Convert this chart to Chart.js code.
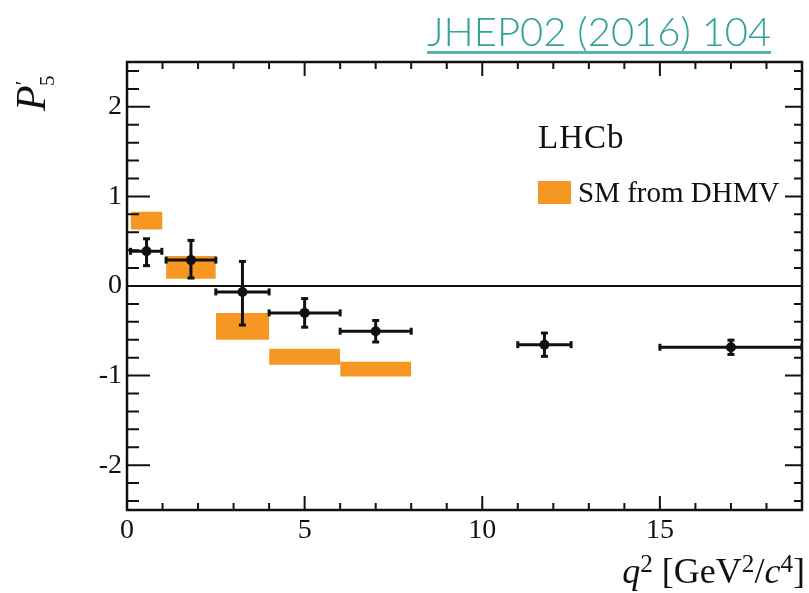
<!DOCTYPE html>
<html>
<head>
<meta charset="utf-8">
<script src="https://cdn.jsdelivr.net/npm/chart.js@4.4.1/dist/chart.umd.min.js"></script>
<style>
  body { margin: 0; background: #fff; }
  #wrap { position: relative; width: 809px; height: 593px; overflow: hidden; }
  #wrap div { position: absolute; white-space: nowrap; line-height: 1; color: #111; font-family: "Liberation Serif", serif; }
  #jhep { left: 427px; top: 11px; font-family: Lato, sans-serif !important; font-weight: 300; font-size: 40px; color: #35a29a !important; border-bottom: 3px solid #58b3aa; padding-bottom: 0px; }
  #ytitle { left: 10px; top: 111px; font-size: 42px; transform: rotate(-90deg); transform-origin: 0 0; }
  #ytitle sup, #ytitle sub { font-size: 0.5em; line-height: 0; }
  #xtitle { right: 4px; top: 553px; font-size: 36px; }
  #xtitle sup { font-size: 0.7em; line-height: 0; vertical-align: 0.45em; }
  #lhcb { left: 538px; top: 121px; font-size: 33px; letter-spacing: 1px; }
  #leg { left: 538px; top: 178px; font-size: 29px; }
  #leg span { display: inline-block; width: 33px; height: 23px; background: rgb(246,150,35); vertical-align: -2px; margin-right: 7px; }
</style>
</head>
<body>
<div id="wrap">
  <canvas id="c" width="809" height="593"></canvas>
  <div id="jhep">JHEP02 (2016) 104</div>
  <div id="ytitle"><i>P</i><sup>′</sup><sub style="margin-left:-0.25em">5</sub></div>
  <div id="xtitle"><i>q</i><sup>2</sup> [GeV<sup>2</sup>/<i>c</i><sup>4</sup>]</div>
  <div id="lhcb">LHCb</div>
  <div id="leg"><span></span>SM from DHMV</div>
</div>
<script>
// LHCb P5' measurement, bins in q2
const binLo = [0.1, 1.1, 2.5, 4.0, 6.0, 11.0, 15.0];
const binHi = [0.98, 2.5, 4.0, 6.0, 8.0, 12.5, 19.0];
const pointX = [0.55, 1.8, 3.25, 5.0, 7.0, 11.75, 17.0];
const p5 = [0.387, 0.289, -0.066, -0.300, -0.505, -0.655, -0.684];
const errUp = [0.14, 0.22, 0.34, 0.16, 0.12, 0.13, 0.08];
const errDn = [0.16, 0.20, 0.37, 0.16, 0.12, 0.13, 0.08];

// SM prediction (DHMV) bands
const smLo = [0.1, 1.1, 2.5, 4.0, 6.0];
const smHi = [1.0, 2.5, 4.0, 6.0, 8.0];
const smMin = [0.63, 0.08, -0.60, -0.88, -1.01];
const smMax = [0.83, 0.335, -0.30, -0.70, -0.845];

const xLabels = [0, 5, 10, 15];
const yLabels = [-2, -1, 0, 1, 2];

const orange = "rgb(246, 150, 35)";
const ink = "#111";
const tickFont = { family: "Liberation Serif", size: 28 };

const xMinor = [];
for (let k = 0; k <= 19; k++) xMinor.push(k);
const yMinor = [];
for (let k = -24; k <= 24; k += 2) yMinor.push(k / 10);

const vSeg = [];
const hSeg = [];
const vCaps = [];
const hCaps = [];
pointX.forEach(function(px, i) {
  vSeg.push({ x: px, y: p5[i] - errDn[i] }, { x: px, y: p5[i] + errUp[i] }, { x: px, y: null });
  hSeg.push({ x: binLo[i], y: p5[i] }, { x: binHi[i], y: p5[i] }, { x: px, y: null });
  vCaps.push({ x: px, y: p5[i] - errDn[i] }, { x: px, y: p5[i] + errUp[i] });
  hCaps.push({ x: binLo[i], y: p5[i] }, { x: binHi[i], y: p5[i] });
});

const boxSets = smLo.map(function(lo, i) {
  return {
    showLine: true,
    data: [{ x: lo, y: smMax[i] }, { x: smHi[i], y: smMax[i] }],
    fill: { target: { value: smMin[i] } },
    backgroundColor: orange,
    borderWidth: 0,
    pointRadius: 0
  };
});

const frameTicks = {
  id: "frameTicks",
  afterDatasetsDraw(chart) {
    const { ctx, chartArea: a, scales: { x, y } } = chart;
    ctx.save();
    ctx.strokeStyle = ink;
    ctx.lineWidth = 2;
    ctx.beginPath();
    xMinor.forEach(function(v) {
      const px = x.getPixelForValue(v);
      const len = v % 5 === 0 ? 14 : 7;
      ctx.moveTo(px, a.bottom);
      ctx.lineTo(px, a.bottom - len);
      ctx.moveTo(px, a.top);
      ctx.lineTo(px, a.top + len);
    });
    yMinor.forEach(function(v) {
      const py = y.getPixelForValue(v);
      const major = Math.abs(v - Math.round(v)) < 1e-6;
      ctx.moveTo(a.left, py);
      ctx.lineTo(a.left + (major ? 23 : 12), py);
      ctx.moveTo(a.right, py);
      ctx.lineTo(a.right - (major ? 17 : 8), py);
    });
    ctx.stroke();
    ctx.lineWidth = 2.5;
    ctx.strokeRect(a.left, a.top, a.right - a.left, a.bottom - a.top);
    ctx.restore();
  }
};

new Chart(document.getElementById("c"), {
  type: "scatter",
  data: {
    datasets: [
      { data: pointX.map((px, i) => ({ x: px, y: p5[i] })), pointRadius: 5, backgroundColor: ink, borderWidth: 0 },
      { data: vCaps, pointStyle: "line", pointRadius: 3.5, borderColor: ink, borderWidth: 3 },
      { data: hCaps, pointStyle: "line", rotation: 90, pointRadius: 3.5, borderColor: ink, borderWidth: 3 },
      { data: vSeg.concat(hSeg), showLine: true, spanGaps: false, borderColor: ink, borderWidth: 3, pointRadius: 0 },
      { data: [{ x: 0, y: 0 }, { x: 19, y: 0 }], showLine: true, borderColor: ink, borderWidth: 2, pointRadius: 0 },
      ...boxSets
    ]
  },
  options: {
    responsive: false,
    devicePixelRatio: 1,
    animation: false,
    layout: { padding: { top: 62, right: 6, left: 0, bottom: 0 } },
    plugins: { legend: { display: false }, tooltip: { enabled: false } },
    scales: {
      x: {
        type: "linear",
        min: 0,
        max: 19,
        grid: { display: false, drawTicks: false },
        border: { display: false },
        afterBuildTicks: function(s) { s.ticks = xLabels.map(v => ({ value: v })); },
        afterFit: function(s) { s.height = 83; },
        ticks: { font: tickFont, color: ink, padding: 4, autoSkip: false, maxRotation: 0 }
      },
      y: {
        type: "linear",
        min: -2.5,
        max: 2.5,
        grid: { display: false, drawTicks: false },
        border: { display: false },
        afterBuildTicks: function(s) { s.ticks = yLabels.map(v => ({ value: v })); },
        afterFit: function(s) { s.width = 127; },
        ticks: { font: tickFont, color: ink, padding: 5, autoSkip: false }
      }
    }
  },
  plugins: [frameTicks]
});
</script>
</body>
</html>
